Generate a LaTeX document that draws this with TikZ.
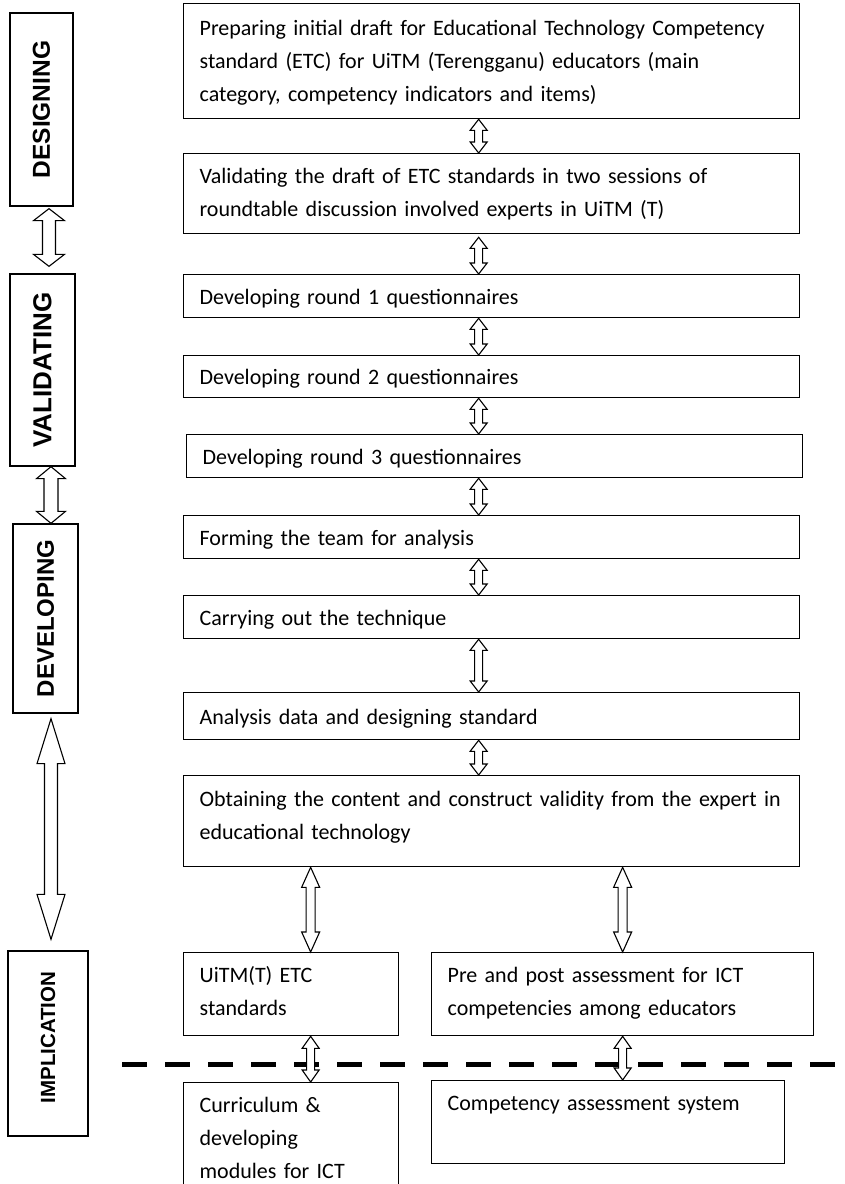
\documentclass[tikz,border=0pt]{standalone}
\usepackage{fontspec}
\setmainfont{Carlito}[WordSpace=0.9]
\newfontfamily\phasefont{Liberation Sans}
\usetikzlibrary{calc}

\tikzset{
  task/.style={draw, line width=1.3pt, anchor=north west, align=left,
    inner xsep=16pt, inner ysep=0pt, text height=16pt, text depth=0pt,
    font=\fontsize{22}{33}\selectfont},
  phase/.style={draw, line width=1.3pt, inner sep=0pt},
  % head half width / shaft half width / head length
  hollow/.style args={#1/#2/#3}{draw, line width=1.1pt, fill=white,
    to path={let \p1=(\tikztostart), \p2=(\tikztotarget) in
      -- (\x1+#1,\y1-#3) -- (\x1+#2,\y1-#3) -- (\x1+#2,\y2+#3)
      -- (\x1+#1,\y2+#3) -- (\x1,\y2) -- (\x1-#1,\y2+#3)
      -- (\x1-#2,\y2+#3) -- (\x1-#2,\y1-#3) -- (\x1-#1,\y1-#3) -- cycle}},
  small/.style={hollow=8.5pt/4pt/11pt}
}
\newcommand{\phasetext}[2]{\phasefont\bfseries\fontsize{#1}{#1}\selectfont\rotatebox{90}{#2}}

\begin{document}
\begin{tikzpicture}[x=1pt,y=-1pt]
  \useasboundingbox (0,0) rectangle (844,1184);

  % phases on the left
  \node[phase, minimum width=63pt, minimum height=193pt] (design) at (41.5,109.5) {\phasetext{24.5}{DESIGNING}};
  \node[phase, minimum width=65pt, minimum height=192pt] (valid) at (42.5,370) {\phasetext{26}{VALIDATING}};
  \node[phase, minimum width=65pt, minimum height=189pt] (devel) at (45.5,618.5) {\phasetext{24}{DEVELOPING}};
  \node[phase, minimum width=80pt, minimum height=185pt] (impl) at (48,1043.5) {\phasetext{20.5}{\hspace{12pt}IMPLICATION}};

  % main steps
  \node[task, text width=584pt, minimum height=115pt, text depth=67pt] (s1) at (183,3)
    {Preparing initial draft for Educational Technology Competency\\
     standard (ETC) for UiTM (Terengganu) educators (main\\
     category, competency indicators and items)};
  \node[task, text width=584pt, minimum height=80pt, text depth=36pt] (s2) at (183,153)
    {Validating the draft of ETC standards in two sessions of\\
     roundtable discussion involved experts in UiTM (T)};
  \node[task, text width=584pt, minimum height=43pt] (s3) at (183,274) {Developing round 1 questionnaires};
  \node[task, text width=584pt, minimum height=42pt] (s4) at (183,355) {Developing round 2 questionnaires};
  \node[task, text width=584pt, minimum height=43pt] (s5) at (186,434) {Developing round 3 questionnaires};
  \node[task, text width=584pt, minimum height=43pt] (s6) at (183,515) {Forming the team for analysis};
  \node[task, text width=584pt, minimum height=43pt] (s7) at (183,595) {Carrying out the technique};
  \node[task, text width=584pt, minimum height=47pt] (s8) at (183,692) {Analysis data and designing standard};
  \node[task, text width=584pt, minimum height=91pt, text depth=45pt] (s9) at (183,775)
    {Obtaining the content and construct validity from the expert in\\
     educational technology};

  % outcomes
  \node[task, text width=183pt, minimum height=83pt, text depth=39pt] (etc) at (183,952) {UiTM(T) ETC\\ standards};
  \node[task, text width=350pt, minimum height=83pt, text depth=39pt] (prepost) at (431,952)
    {Pre and post assessment for ICT\\ competencies among educators};
  \node[task, text width=183pt, minimum height=125pt, text depth=81pt] (curr) at (183,1082)
    {Curriculum \&\\ developing\\ modules for ICT};
  \node[task, text width=321pt, minimum height=83pt, text depth=39pt] (cas) at (431,1080)
    {Competency assessment system};

  % arrows between phases
  \draw[hollow=15.5pt/6.5pt/12pt] ([xshift=7.5pt,yshift=-2pt]design.south) to ([xshift=6.5pt,yshift=7pt]valid.north);
  \draw[hollow=14.5pt/7pt/12pt] ([xshift=8.5pt]valid.south) to ([xshift=5.5pt]devel.north);
  \draw[hollow=14pt/6.5pt/45pt] ([xshift=5.5pt,yshift=-5pt]devel.south) to ([xshift=3pt,yshift=11pt]impl.north);

  % arrows between steps
  \draw[small] ([xshift=-13pt]s1.south) to ([xshift=-13pt]s2.north);
  \draw[small] ([xshift=-13pt,yshift=-3pt]s2.south) to ([xshift=-13pt]s3.north);
  \draw[small] ([xshift=-13pt]s3.south) to ([xshift=-13pt]s4.north);
  \draw[small] ([xshift=-13pt]s4.south) to ([xshift=-16pt]s5.north);
  \draw[small] ([xshift=-16pt]s5.south) to ([xshift=-13pt]s6.north);
  \draw[small] ([xshift=-13pt]s6.south) to ([xshift=-13pt]s7.north);
  \draw[small] ([xshift=-13pt]s7.south) to ([xshift=-13pt]s8.north);
  \draw[small] ([xshift=-13pt]s8.south) to ([xshift=-13pt]s9.north);

  % arrows to the outcomes
  \draw[hollow=9pt/4.5pt/20pt] ([xshift=19.5pt]etc.north |- s9.south) to ([xshift=19.5pt]etc.north);
  \draw[hollow=9pt/4.5pt/20pt] (prepost.north |- s9.south) to (prepost.north);

  % cut line
  \coordinate (cutL) at (122,1064);
  \coordinate (cutR) at (844,1064);
  \draw[line width=5pt, dash pattern=on 25pt off 18pt] (cutL) -- (cutR);

  \draw[hollow=8.5pt/4pt/12pt] ([xshift=19.5pt]etc.south) to ([xshift=19.5pt]curr.north);
  \draw[hollow=8.5pt/4pt/12pt] (prepost.south) to (prepost.south |- cas.north);
\end{tikzpicture}
\end{document}
